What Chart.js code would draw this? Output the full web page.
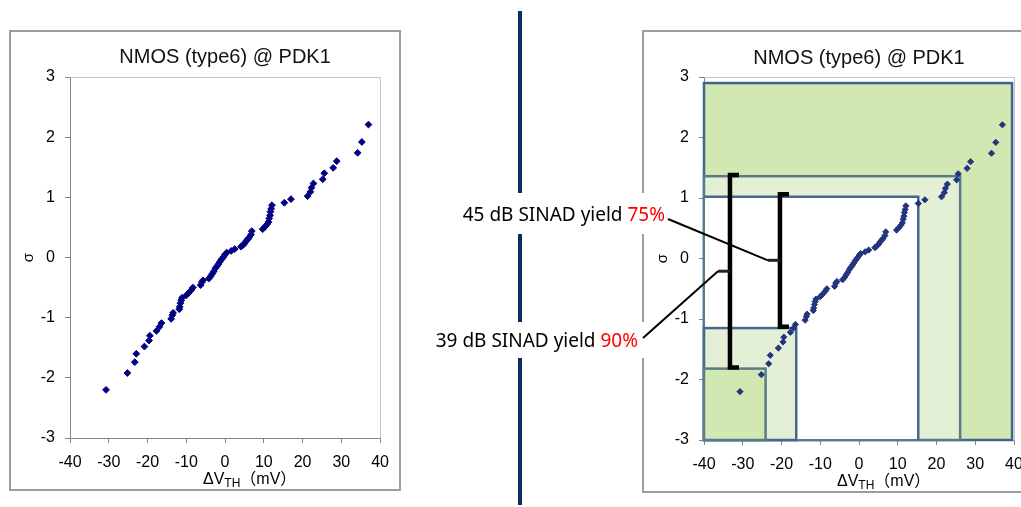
<!DOCTYPE html>
<html>
<head>
<meta charset="utf-8">
<script src="https://cdn.jsdelivr.net/npm/chart.js@4.4.1/dist/chart.umd.min.js"></script>
<style>
  html, body { margin: 0; padding: 0; background: #fff; width: 1021px; height: 507px; overflow: hidden; position: relative; }
  .panel { position: absolute; box-sizing: border-box; border: 2px solid #9d9d9d; }
  #divider { position: absolute; left: 518px; top: 11px; width: 4px; height: 494px; background: #0e2a60; }
  canvas { position: absolute; }
</style>
</head>
<body>
<div class="panel" style="left:9px;top:30px;width:392px;height:461px"></div>
<div class="panel" style="left:642px;top:30px;width:420px;height:463px"></div>
<div id="divider"></div>
<canvas id="plain" width="388" height="457" style="left:11px;top:32px"></canvas>
<canvas id="zoned" width="610" height="507" style="left:430px;top:0px"></canvas>
<script>
// Threshold-voltage mismatch samples (mV) and their normal quantiles (sigma)
const deltaVth = [
  -30.7, -25.2, -23.3, -22.9, -20.8, -19.6, -19.4, -17.7, -16.9, -16.4,
  -13.9, -13.6, -13.4, -11.8, -11.7, -11.5, -11.3, -11.1, -10.0, -9.4,
  -8.7, -8.3, -6.3, -6.0, -5.7, -4.2, -3.7, -3.3, -2.9, -2.5,
  -2.1, -1.7, -1.3, -0.9, -0.4, 0.0, 0.4, 1.6, 2.5, 4.1,
  4.5, 5.0, 5.4, 5.8, 6.2, 6.7, 6.9, 9.7, 10.3, 10.8,
  11.2, 11.4, 11.6, 11.7, 11.9, 12.1, 15.3, 17.0, 21.3, 22.0,
  22.3, 22.8, 25.2, 25.6, 27.9, 28.8, 34.2, 35.3, 37.0
];
const sigma = [
  -2.20, -1.92, -1.74, -1.60, -1.48, -1.38, -1.30, -1.22, -1.15, -1.09,
  -1.02, -0.96, -0.92, -0.86, -0.82, -0.76, -0.71, -0.67, -0.63, -0.59,
  -0.54, -0.50, -0.46, -0.41, -0.38, -0.35, -0.31, -0.27, -0.23, -0.18,
  -0.145, -0.11, -0.07, -0.03, 0.01, 0.05, 0.08, 0.11, 0.14, 0.18,
  0.20, 0.23, 0.27, 0.30, 0.33, 0.38, 0.44, 0.47, 0.51, 0.55,
  0.59, 0.65, 0.70, 0.76, 0.81, 0.87, 0.91, 0.97, 1.02, 1.09,
  1.16, 1.23, 1.30, 1.40, 1.49, 1.60, 1.74, 1.92, 2.21
];

const xTicks = [-40, -30, -20, -10, 0, 10, 20, 30, 40];
const yTicks = [-3, -2, -1, 0, 1, 2, 3];
const chartTitle = 'NMOS (type6) @ PDK1';

// Yield windows: each zone runs from the lower-left corner (-40 mV, -3 sigma)
// up to its own right edge (mV) and top edge (sigma)
const zoneRight = [39.5, 26.1, 15.3, -16.2, -24.1];
const zoneTop = [2.9, 1.36, 1.02, -1.15, -1.82];

// SINAD yield brackets
const bracketText = ['45 dB SINAD yield ', '39 dB SINAD yield '];
const bracketYield = ['75%', '90%'];
const bracketX = [-20.4, -33.3];
const bracketTop = [1.06, 1.38];
const bracketBottom = [-1.13, -1.80];
const bracketMid = [-0.03, -0.21];

const FONT = '"Liberation Sans", Arial, sans-serif';
Chart.defaults.font.family = FONT;
Chart.defaults.color = '#000';

function points() {
  return deltaVth.map((v, i) => ({ x: v, y: sigma[i] }));
}

// x-axis title with subscript, drawn under the tick labels
const axisCaption = {
  id: 'axisCaption',
  afterDraw(chart) {
    const { ctx, chartArea } = chart;
    ctx.save();
    ctx.fillStyle = '#000';
    ctx.textBaseline = 'alphabetic';
    let x = chartArea.left + 133;
    const y = chartArea.bottom + 46;
    ctx.font = '16px ' + FONT;
    ctx.fillText('ΔV', x, y);
    x += ctx.measureText('ΔV').width;
    ctx.font = '12px ' + FONT;
    ctx.fillText('TH', x, y + 3);
    x += ctx.measureText('TH').width;
    ctx.font = '16px "Liberation Sans", "Noto Sans CJK JP", sans-serif';
    ctx.fillText('（mV）', x, y);
    ctx.restore();
  }
};

// Light frame on the top and right of the plot area
const plotFrame = {
  id: 'plotFrame',
  beforeDatasetsDraw(chart) {
    const { ctx, chartArea: a } = chart;
    ctx.save();
    ctx.strokeStyle = '#c4c4c4';
    ctx.lineWidth = 1;
    ctx.beginPath();
    ctx.moveTo(Math.round(a.left) + 0.5, Math.round(a.top) + 0.5);
    ctx.lineTo(Math.round(a.right) + 0.5, Math.round(a.top) + 0.5);
    ctx.lineTo(Math.round(a.right) + 0.5, Math.round(a.bottom) + 0.5);
    ctx.stroke();
    ctx.restore();
  }
};

// Shaded yield zones behind the samples
const yieldZones = {
  id: 'yieldZones',
  beforeDatasetsDraw(chart) {
    const { ctx, scales: { x, y } } = chart;
    const fills = ['#d2e8b3', '#e3f0d5', '#ffffff', '#e3f0d5', '#d2e8b3'];
    const edges = ['#41638f', '#5a7b88', '#46688f', '#46688f', '#5a7b88'];
    const left = x.getPixelForValue(-40);
    const base = y.getPixelForValue(-3);
    ctx.save();
    ctx.lineWidth = 2.5;
    zoneRight.forEach((r, i) => {
      const right = x.getPixelForValue(r);
      const top = y.getPixelForValue(zoneTop[i]);
      ctx.fillStyle = fills[i];
      ctx.strokeStyle = edges[i];
      if (i === 2) {
        // clear window: only its top and right edges are outlined
        ctx.fillRect(left + 1, top, right - left - 1, base - top - 1);
        ctx.beginPath();
        ctx.moveTo(left, top);
        ctx.lineTo(right, top);
        ctx.lineTo(right, base);
        ctx.stroke();
      } else {
        ctx.fillRect(left, top, right - left, base - top);
        ctx.strokeRect(left, top, right - left, base - top);
      }
    });
    ctx.restore();
  }
};

// Brackets, leader lines and their captions
const yieldBrackets = {
  id: 'yieldBrackets',
  afterDraw(chart) {
    const { ctx, scales: { x, y }, chartArea: a } = chart;
    const textRight = [a.left - 39, a.left - 66];
    const baseline = [221, 346.7];
    const boxTop = [193, 322];
    const boxHeight = [41, 36];
    const boxPadRight = [4, 10];
    const leadStart = [[3, -2], [5, -8.7]];
    ctx.save();
    ctx.font = '19px "Noto Sans", "Open Sans", sans-serif';
    ctx.textBaseline = 'alphabetic';
    bracketText.forEach((t, i) => {
      const wT = ctx.measureText(t).width;
      const wY = ctx.measureText(bracketYield[i]).width;
      const start = textRight[i] - wT - wY;
      ctx.fillStyle = '#ffffff';
      ctx.fillRect(start - 4, boxTop[i], wT + wY + 4 + boxPadRight[i], boxHeight[i]);
      ctx.fillStyle = '#000';
      ctx.fillText(t, start, baseline[i]);
      ctx.fillStyle = '#ff0000';
      ctx.fillText(bracketYield[i], start + wT, baseline[i]);
    });
    bracketX.forEach((bx, i) => {
      const px = x.getPixelForValue(bx);
      const top = y.getPixelForValue(bracketTop[i]);
      const bottom = y.getPixelForValue(bracketBottom[i]);
      const mid = y.getPixelForValue(bracketMid[i]);
      ctx.strokeStyle = '#000';
      ctx.lineWidth = 4.5;
      ctx.lineJoin = 'miter';
      ctx.beginPath();
      ctx.moveTo(px + 9, top);
      ctx.lineTo(px, top);
      ctx.lineTo(px, bottom);
      ctx.lineTo(px + 9, bottom);
      ctx.stroke();
      ctx.strokeStyle = '#222';
      ctx.lineWidth = 3;
      ctx.beginPath();
      ctx.moveTo(px, mid);
      ctx.lineTo(px - 12, mid);
      ctx.stroke();
      ctx.strokeStyle = '#000';
      ctx.lineWidth = 2;
      ctx.beginPath();
      ctx.moveTo(textRight[i] + leadStart[i][0], baseline[i] + leadStart[i][1]);
      ctx.lineTo(px - 12, mid);
      ctx.stroke();
    });
    ctx.restore();
  }
};

function axes() {
  const grid = { display: true, drawOnChartArea: false, drawTicks: true, tickLength: 5, color: '#868686' };
  const border = { display: true, color: '#868686', width: 1 };
  return {
    x: {
      type: 'linear', min: -40, max: 40,
      afterBuildTicks: s => { s.ticks = xTicks.map(v => ({ value: v })); },
      afterFit: s => { s.height = 51; },
      ticks: { font: { size: 16 }, padding: 10, autoSkip: false, maxRotation: 0, color: '#000' },
      grid, border
    },
    y: {
      type: 'linear', min: -3, max: 3,
      afterBuildTicks: s => { s.ticks = yTicks.map(v => ({ value: v })); },
      afterFit: s => { s.width = 59; },
      ticks: { font: { size: 16 }, padding: 10, autoSkip: false, color: '#000' },
      title: { display: true, text: 'σ', font: { size: 15 }, padding: { top: 9, bottom: 0 }, color: '#000' },
      grid, border
    }
  };
}

function makeChart(id, color, radius, padding, titlePad, plugins) {
  return new Chart(document.getElementById(id), {
    type: 'scatter',
    data: {
      datasets: [{
        data: points(),
        pointStyle: 'rectRot',
        pointRadius: radius,
        pointBackgroundColor: color,
        pointBorderColor: color,
        pointBorderWidth: 1
      }]
    },
    options: {
      responsive: false,
      animation: false,
      devicePixelRatio: 1,
      layout: { padding },
      scales: axes(),
      plugins: {
        legend: { display: false },
        tooltip: { enabled: false },
        title: {
          display: true, text: chartTitle, fullSize: false,
          font: { size: 20, weight: 'normal' }, color: '#111',
          padding: titlePad
        }
      }
    },
    plugins
  });
}

makeChart('plain', '#000080', 3.4, { left: 0, right: 18, top: 0, bottom: 0 },
  { top: 13, bottom: 8 }, [plotFrame, axisCaption]);
makeChart('zoned', '#24357f', 3.1, { left: 215, right: 26, top: 0, bottom: 16 },
  { top: 46, bottom: 7 }, [plotFrame, yieldZones, axisCaption, yieldBrackets]);
</script>
</body>
</html>
